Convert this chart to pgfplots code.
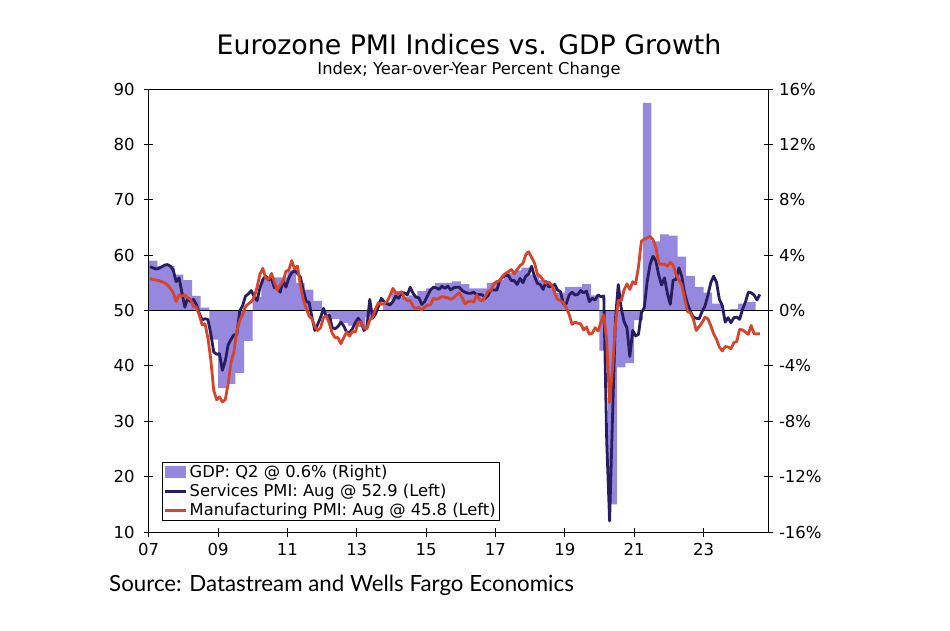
\documentclass[border=0pt]{standalone}
\usepackage{fontspec}
\setmainfont{DejaVu Sans}
\newfontfamily\srcfont{Lato}
\usepackage{pgfplots}
\usepackage{pgfplotstable}
\pgfplotsset{compat=1.18}
\definecolor{gdpc}{RGB}{150,136,222}
\definecolor{svc}{RGB}{40,30,95}
\definecolor{mfg}{RGB}{214,68,42}

\pgfplotstableread{
t g
2007.00 3.6
2007.25 3.2
2007.50 3.2
2007.75 2.6
2008.00 2.2
2008.25 1.05
2008.50 0.2
2008.75 -2.1
2009.00 -5.6
2009.25 -5.3
2009.50 -4.5
2009.75 -2.2
2010.00 1.0
2010.25 2.2
2010.50 2.4
2010.75 2.4
2011.00 2.9
2011.25 2.0
2011.50 1.5
2011.75 0.7
2012.00 -0.2
2012.25 -0.6
2012.50 -0.9
2012.75 -1.1
2013.00 -1.2
2013.25 -0.5
2013.50 0.0
2013.75 0.6
2014.00 1.4
2014.25 1.0
2014.50 1.1
2014.75 1.4
2015.00 1.6
2015.25 2.0
2015.50 2.0
2015.75 2.1
2016.00 1.9
2016.25 1.6
2016.50 1.6
2016.75 2.0
2017.00 2.2
2017.25 2.7
2017.50 2.9
2017.75 3.1
2018.00 2.6
2018.25 2.2
2018.50 1.6
2018.75 1.3
2019.00 1.7
2019.25 1.7
2019.50 1.9
2019.75 1.1
2020.00 -2.9
2020.25 -14.0
2020.50 -4.1
2020.75 -3.8
2021.00 -0.7
2021.25 15.0
2021.50 5.0
2021.75 5.5
2022.00 5.4
2022.25 3.9
2022.50 2.5
2022.75 1.7
2023.00 1.3
2023.25 0.5
2023.50 0.0
2023.75 0.1
2024.00 0.5
2024.25 0.6
2024.50 0.6
}\gdp

\pgfplotstableread{
y m s f
2007 1 57.9 55.8
2007 2 57.7 55.6
2007 3 57.5 55.5
2007 4 57.6 55.4
2007 5 57.9 55.2
2007 6 58.2 55.0
2007 7 58.3 54.6
2007 8 58.0 54.0
2007 9 57.3 53.2
2007 10 55.2 51.6
2007 11 55.9 52.8
2007 12 53.2 52.6
2008 1 50.6 52.8
2008 2 52.3 52.3
2008 3 51.6 52.0
2008 4 52.0 50.7
2008 5 51.1 50.6
2008 6 49.5 49.2
2008 7 48.3 47.4
2008 8 48.5 47.6
2008 9 48.4 45.0
2008 10 45.8 41.1
2008 11 42.5 35.6
2008 12 42.1 33.9
2009 1 42.2 34.4
2009 2 39.2 33.5
2009 3 40.9 33.9
2009 4 43.8 36.8
2009 5 44.8 40.7
2009 6 45.6 42.6
2009 7 45.7 46.3
2009 8 49.9 48.2
2009 9 50.9 49.3
2009 10 52.6 50.7
2009 11 53.0 51.2
2009 12 53.6 51.6
2010 1 52.5 52.4
2010 2 51.8 54.2
2010 3 54.1 56.6
2010 4 55.6 57.6
2010 5 56.2 55.8
2010 6 55.5 55.6
2010 7 55.8 56.7
2010 8 54.1 55.1
2010 9 54.1 53.7
2010 10 53.3 54.6
2010 11 55.4 55.3
2010 12 54.2 57.1
2011 1 55.9 57.3
2011 2 56.8 59.0
2011 3 57.2 57.5
2011 4 56.7 58.0
2011 5 56.0 54.6
2011 6 53.7 52.0
2011 7 51.6 50.4
2011 8 51.5 49.0
2011 9 48.8 48.5
2011 10 46.4 47.1
2011 11 47.5 46.4
2011 12 48.8 46.9
2012 1 50.4 48.8
2012 2 48.8 49.0
2012 3 49.2 47.7
2012 4 46.9 45.9
2012 5 46.7 45.1
2012 6 47.1 45.1
2012 7 47.9 44.0
2012 8 47.2 45.1
2012 9 46.1 46.1
2012 10 46.0 45.4
2012 11 46.7 46.2
2012 12 47.8 46.1
2013 1 48.6 47.9
2013 2 47.9 47.9
2013 3 46.4 46.8
2013 4 47.0 46.7
2013 5 52.0 48.3
2013 6 48.6 48.8
2013 7 49.4 50.3
2013 8 50.7 51.4
2013 9 52.2 51.1
2013 10 51.6 51.3
2013 11 51.2 51.6
2013 12 51.0 52.7
2014 1 51.6 54.0
2014 2 52.6 53.2
2014 3 52.2 53.0
2014 4 53.1 53.4
2014 5 53.2 52.2
2014 6 52.8 51.8
2014 7 54.2 51.8
2014 8 53.1 50.7
2014 9 52.4 50.3
2014 10 52.3 50.6
2014 11 51.1 50.1
2014 12 51.6 50.6
2015 1 52.7 51.0
2015 2 53.7 51.0
2015 3 54.2 52.2
2015 4 54.1 52.0
2015 5 53.8 52.2
2015 6 54.4 52.5
2015 7 54.0 52.4
2015 8 54.4 52.3
2015 9 53.7 52.0
2015 10 54.1 52.3
2015 11 54.2 52.8
2015 12 54.2 53.2
2016 1 53.6 52.3
2016 2 53.3 51.2
2016 3 53.1 51.6
2016 4 53.1 51.7
2016 5 53.3 51.5
2016 6 52.8 52.8
2016 7 52.9 52.0
2016 8 52.8 51.7
2016 9 52.2 52.6
2016 10 52.8 53.5
2016 11 53.8 53.7
2016 12 53.7 54.9
2017 1 53.7 55.2
2017 2 55.5 55.4
2017 3 56.0 56.2
2017 4 56.4 56.7
2017 5 56.3 57.0
2017 6 55.4 57.4
2017 7 55.4 56.6
2017 8 54.7 57.4
2017 9 55.8 58.1
2017 10 55.0 58.5
2017 11 56.2 60.1
2017 12 56.6 60.6
2018 1 58.0 59.6
2018 2 56.2 58.6
2018 3 54.9 56.6
2018 4 54.7 56.2
2018 5 53.8 55.5
2018 6 55.2 54.9
2018 7 54.2 55.1
2018 8 54.4 54.6
2018 9 54.7 53.2
2018 10 53.7 52.0
2018 11 53.4 51.8
2018 12 51.2 51.4
2019 1 51.2 50.5
2019 2 52.8 49.3
2019 3 53.3 47.5
2019 4 52.8 47.9
2019 5 52.9 47.7
2019 6 53.6 47.6
2019 7 53.2 46.5
2019 8 53.5 47.0
2019 9 51.6 45.7
2019 10 52.2 45.9
2019 11 51.9 46.9
2019 12 52.8 46.3
2020 1 52.5 47.9
2020 2 52.6 49.2
2020 3 26.4 44.5
2020 4 12.0 33.4
2020 5 30.5 39.4
2020 6 48.3 47.4
2020 7 54.7 51.8
2020 8 50.5 51.7
2020 9 48.0 53.7
2020 10 46.9 54.8
2020 11 41.7 53.8
2020 12 46.4 55.2
2021 1 45.4 54.8
2021 2 45.7 57.9
2021 3 49.6 62.5
2021 4 50.5 62.9
2021 5 55.2 63.1
2021 6 58.3 63.4
2021 7 59.8 62.8
2021 8 59.0 61.4
2021 9 56.4 58.6
2021 10 54.6 58.3
2021 11 55.9 58.4
2021 12 53.1 58.0
2022 1 51.1 58.7
2022 2 55.5 58.2
2022 3 55.6 56.5
2022 4 57.7 55.5
2022 5 56.1 54.6
2022 6 53.0 52.1
2022 7 51.2 49.8
2022 8 49.8 49.6
2022 9 48.8 48.4
2022 10 48.6 46.4
2022 11 48.5 47.1
2022 12 49.8 47.8
2023 1 50.8 48.8
2023 2 52.7 48.5
2023 3 55.0 47.3
2023 4 56.2 45.8
2023 5 55.1 44.8
2023 6 52.0 43.4
2023 7 50.9 42.7
2023 8 47.9 43.5
2023 9 48.7 43.4
2023 10 47.8 43.1
2023 11 48.7 44.2
2023 12 48.8 44.4
2024 1 48.4 46.6
2024 2 50.2 46.5
2024 3 51.5 46.1
2024 4 53.3 45.7
2024 5 53.2 47.3
2024 6 52.8 45.8
2024 7 51.9 45.8
2024 8 52.9 45.8
}\pmi

\begin{document}
\begin{tikzpicture}[x=1pt,y=1pt]
\useasboundingbox (0,0) rectangle (950,630);
\node[font=\fontsize{26.8}{32}\selectfont] at (469,585) {Eurozone PMI Indices vs. GDP Growth};
\node[font=\fontsize{16.3}{19}\selectfont] at (469,560) {Index; Year-over-Year Percent Change};
\node[anchor=west, font=\srcfont\fontsize{22.3}{26}\selectfont, inner sep=0pt] at (109,45) {Source: Datastream and Wells Fargo Economics};

\begin{axis}[at={(148.7pt,98pt)}, anchor=south west, width=619.3pt, height=443pt, scale only axis,
  xmin=2007, xmax=2024.86, ymin=-16, ymax=16,
  xtick={2007,2009,...,2023}, xticklabels={07,09,11,13,15,17,19,21,23},
  ytick={-16,-12,...,16}, yticklabel={\pgfmathprintnumber{\tick}\%},
  ytick pos=right, xtick pos=bottom,
  tick align=center, major tick length=9pt,
  tick style={black, line width=0.8pt},
  axis line style={black, line width=0.9pt},
  ticklabel style={font=\fontsize{16.5}{19}\selectfont},
  /pgf/number format/assume math mode=true,
  xticklabel style={yshift=-3pt},
  yticklabel style={xshift=3pt},
  clip=true]
\addplot[const plot mark left, fill=gdpc, draw=none] table[x=t,y=g]{\gdp} \closedcycle;
\draw[black, line width=1pt] (axis cs:2007,0) -- (axis cs:2024.86,0);
\end{axis}

\begin{axis}[at={(148.7pt,98pt)}, anchor=south west, width=619.3pt, height=443pt, scale only axis,
  xmin=2007, xmax=2024.86, ymin=10, ymax=90,
  axis x line=none, axis y line*=left,
  ytick={10,20,...,90},
  tick align=center, major tick length=9pt,
  tick style={black, line width=0.8pt},
  axis line style={black, line width=0.9pt},
  ticklabel style={font=\fontsize{16.5}{19}\selectfont},
  /pgf/number format/assume math mode=true,
  yticklabel style={xshift=-6pt},
  legend cell align=left,
  legend style={at={(0.0215,0.0248)}, anchor=south west, draw=black, line width=0.8pt,
    font=\fontsize{16.3}{19}\selectfont, inner sep=1.5pt, row sep=1pt},
  legend image code/.code={\draw[#1, line width=2.8pt] (0pt,0pt) -- (21pt,0pt);}]
\addlegendimage{legend image code/.code={\fill[gdpc] (0pt,-5pt) rectangle (20pt,6pt);}}
\addlegendentry{GDP: Q2 @ 0.6\% (Right)}
\addplot[svc, line width=2.8pt, line join=round] table[x expr=\thisrow{y}+(\thisrow{m}-0.5)/12, y=s]{\pmi};
\addlegendentry{Services PMI: Aug @ 52.9 (Left)}
\addplot[mfg, line width=2.8pt, line join=round] table[x expr=\thisrow{y}+(\thisrow{m}-0.5)/12, y=f]{\pmi};
\addlegendentry{Manufacturing PMI: Aug @ 45.8 (Left)}
\end{axis}
\end{tikzpicture}
\end{document}
